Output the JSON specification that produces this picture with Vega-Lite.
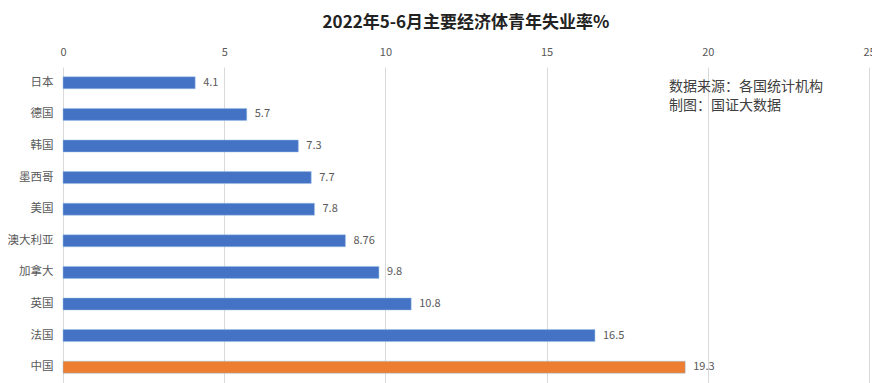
{
  "$schema": "https://vega.github.io/schema/vega-lite/v6.json",
  "autosize": "none",
  "width": 806,
  "height": 316,
  "padding": {"left": 63, "top": 67, "right": 3, "bottom": 0},
  "background": "white",
  "title": {
    "text": "2022年5-6月主要经济体青年失业率%",
    "font": "Noto Sans CJK SC",
    "fontSize": 17,
    "fontWeight": "bold",
    "color": "#222222",
    "anchor": "middle",
    "offset": 14
  },
  "config": {
    "view": {"stroke": null},
    "font": "Noto Sans CJK SC"
  },
  "data": {
    "values": [
      {"country": "日本", "rate": 4.1},
      {"country": "德国", "rate": 5.7},
      {"country": "韩国", "rate": 7.3},
      {"country": "墨西哥", "rate": 7.7},
      {"country": "美国", "rate": 7.8},
      {"country": "澳大利亚", "rate": 8.76},
      {"country": "加拿大", "rate": 9.8},
      {"country": "英国", "rate": 10.8},
      {"country": "法国", "rate": 16.5},
      {"country": "中国", "rate": 19.3}
    ]
  },
  "encoding": {
    "y": {
      "field": "country",
      "type": "nominal",
      "sort": null,
      "scale": {"paddingInner": 0.62, "paddingOuter": 0.31},
      "axis": {
        "title": null,
        "domain": false,
        "ticks": false,
        "labelPadding": 10,
        "labelFontSize": 11.5,
        "labelColor": "#595959",
        "labelFont": "Noto Sans CJK SC"
      }
    },
    "x": {
      "field": "rate",
      "type": "quantitative",
      "scale": {"domain": [0, 25], "nice": false},
      "axis": {
        "orient": "top",
        "title": null,
        "values": [0, 5, 10, 15, 20, 25],
        "domain": false,
        "ticks": false,
        "labelPadding": 10,
        "labelFontSize": 11,
        "labelColor": "#595959",
        "gridColor": "#d9d9d9",
        "gridWidth": 1,
        "labelFlush": false
      }
    }
  },
  "layer": [
    {
      "mark": {"type": "bar", "stroke": "#9dc3e6", "strokeWidth": 0.5},
      "encoding": {
        "color": {
          "condition": {"test": "datum.country === '中国'", "value": "#ED7D31"},
          "value": "#4472C4"
        }
      }
    },
    {
      "mark": {"type": "text", "align": "left", "dx": 8, "fontSize": 11, "color": "#595959"},
      "encoding": {
        "text": {"field": "rate", "type": "quantitative"}
      }
    },
    {
      "data": {"values": [{"note": "数据来源：各国统计机构\n制图：国证大数据", "x": 18.8, "country": "日本"}]},
      "mark": {"type": "text", "align": "left", "baseline": "middle", "dy": 4, "fontSize": 14, "color": "#404040", "lineBreak": "\n", "lineHeight": 19},
      "encoding": {
        "x": {"field": "x", "type": "quantitative"},
        "y": {"field": "country", "type": "nominal", "sort": null},
        "text": {"field": "note"}
      }
    }
  ]
}
